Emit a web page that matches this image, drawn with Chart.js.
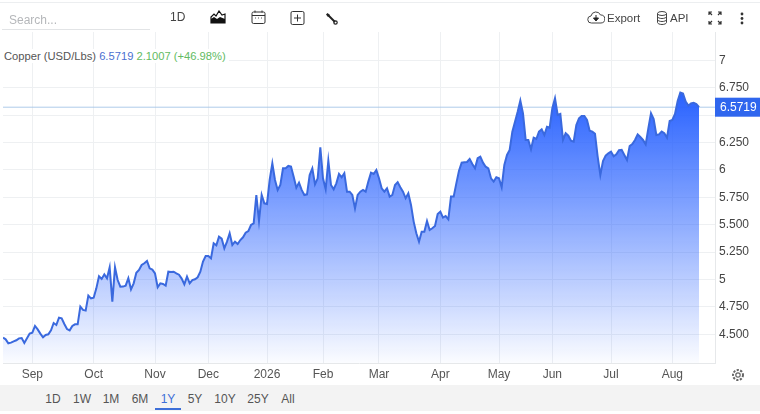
<!DOCTYPE html>
<html>
<head>
<meta charset="utf-8">
<title>Copper</title>
<script src="https://cdn.jsdelivr.net/npm/chart.js@4"></script>
<style>
  body { margin: 0; background: #fff; font-family: "Liberation Sans", Arial, sans-serif; color: #555; }
  #wrap { position: relative; width: 760px; height: 414px; overflow: hidden; }
  #canvas { position: absolute; left: 0; top: 0; }
  .t { position: absolute; white-space: nowrap; font-size: 12px; line-height: 14px; }
  svg { position: absolute; }
  #topline { position: absolute; left: 0; top: 2px; width: 760px; height: 1px; background: #eceef0; }
  #searchline { position: absolute; left: 2px; top: 29px; width: 148px; height: 1px; background: #e2e4e6; }
  #rangebar { position: absolute; left: 0; top: 385px; width: 760px; height: 26px; background: #f3f3f3; }
  #rangeline { position: absolute; left: 155px; top: 408px; width: 26px; height: 2px; background: #3d6fd8; }
  #legend { position: absolute; left: 2px; top: 49px; padding: 0 3px 0 2px; background: #fff; font-size: 11.2px; line-height: 14px; white-space: nowrap; }
</style>
</head>
<body>
<div id="wrap">
  <canvas id="canvas" width="760" height="414"></canvas>
  <div id="topline"></div>
  <div id="searchline"></div>
  <div class="t" style="left:9px;top:13px;color:#b5b7ba">Search...</div>
  <div class="t" style="left:170px;top:10px;color:#444">1D</div>
  <svg style="left:210px;top:10px" width="16" height="14" viewBox="0 0 16 14"><path d="M1 13V7l3-3 2 2 3-5 3 4 3-1v9z" fill="none" stroke="#111" stroke-width="1.2"/><path d="M1 13V9l3-2 3 2 3-2 5 2v4z" fill="#111"/></svg>
  <svg style="left:251px;top:10px" width="15" height="15" viewBox="0 0 15 15"><rect x="1" y="2" width="13" height="11.5" rx="1.5" fill="none" stroke="#333"/><path d="M1 5.5h13" stroke="#333"/><path d="M4 0.5v2M11 0.5v2" stroke="#333"/><path d="M4 8h1M7 8h1M10 8h1" stroke="#555"/></svg>
  <svg style="left:290px;top:11px" width="15" height="14" viewBox="0 0 15 14"><rect x="1" y="0.5" width="13" height="13" rx="1.5" fill="none" stroke="#333"/><path d="M7.500 3.500v7M4 7h7" stroke="#333"/></svg>
  <svg style="left:325px;top:12px" width="13" height="13" viewBox="0 0 13 13"><path d="M3 3l7 7" stroke="#222" stroke-width="2"/><path d="M1 2.500L2.500 1 5 3 3 5z" fill="#222"/><circle cx="10.500" cy="10.500" r="1.700" fill="none" stroke="#222" stroke-width="1.200"/></svg>
  <svg style="left:587px;top:11px" width="18" height="13" viewBox="0 0 18 13"><path d="M4.500 12a3.500 3.500 0 0 1-.5-7 5 5 0 0 1 9.500-1 4 4 0 0 1 .5 8z" fill="none" stroke="#444"/><path d="M9 4v4M6.500 7L9 10l2.500-3z" fill="#222" stroke="#222"/></svg>
  <div class="t" style="left:607px;top:11px;color:#444;font-size:11.5px">Export</div>
  <svg style="left:656px;top:11px" width="12" height="14" viewBox="0 0 12 14"><ellipse cx="6" cy="2.500" rx="4.500" ry="2" fill="none" stroke="#444"/><path d="M1.500 2.500v9c0 1 2 2 4.500 2s4.500-1 4.500-2v-9M1.500 5.500c0 1 2 2 4.500 2s4.500-1 4.500-2M1.500 8.500c0 1 2 2 4.500 2s4.500-1 4.500-2" fill="none" stroke="#444"/></svg>
  <div class="t" style="left:670px;top:11px;color:#444;font-size:11.5px">API</div>
  <svg style="left:708px;top:11px" width="14" height="14" viewBox="0 0 14 14"><path d="M1 4V1h3M10 1h3v3M13 10v3h-3M4 13H1v-3M1 1l3 3M13 1l-3 3M13 13l-3-3M1 13l3-3" fill="none" stroke="#333" stroke-width="1.200"/></svg>
  <svg style="left:740px;top:12px" width="4" height="13" viewBox="0 0 4 13"><circle cx="2" cy="2" r="1.400" fill="#333"/><circle cx="2" cy="6.500" r="1.400" fill="#333"/><circle cx="2" cy="11" r="1.400" fill="#333"/></svg>
  <div id="legend"><span style="color:#555">Copper (USD/Lbs)</span> <span style="color:#4a6fd0" id="lgLast"></span> <span style="color:#62bb62" id="lgChange"></span></div>
  <svg style="left:731px;top:368px" width="14" height="14" viewBox="0 0 14 14"><circle cx="7" cy="7" r="2.200" fill="none" stroke="#666" stroke-width="1.200"/><circle cx="7" cy="7" r="5" fill="none" stroke="#666" stroke-width="2" stroke-dasharray="2.200 1.400"/></svg>
  <div id="rangebar"></div>
  <div id="rangeline"></div>
</div>
<script>
// Copper, one value per trading day
const prices = [
  4.469, 4.454, 4.418, 4.424, 4.436, 4.445, 4.463, 4.466, 4.421, 4.463,
  4.506, 4.515, 4.576, 4.545, 4.506, 4.472, 4.494, 4.500, 4.536, 4.603,
  4.585, 4.652, 4.646, 4.594, 4.548, 4.536, 4.576, 4.591, 4.591, 4.752,
  4.722, 4.716, 4.853, 4.828, 4.834, 4.919, 5.029, 5.005, 5.047, 5.011,
  5.111, 4.798, 5.111, 4.995, 4.934, 4.935, 4.944, 5.011, 4.910, 4.965,
  5.062, 5.087, 5.132, 5.148, 5.169, 5.102, 5.090, 5.056, 4.929, 4.965,
  4.959, 4.944, 5.071, 5.068, 5.071, 5.056, 5.044, 5.008, 4.956, 5.026,
  4.965, 4.995, 5.002, 5.020, 5.071, 5.163, 5.214, 5.214, 5.193, 5.330,
  5.312, 5.391, 5.373, 5.284, 5.345, 5.421, 5.315, 5.345, 5.324, 5.360,
  5.385, 5.427, 5.442, 5.497, 5.512, 5.771, 5.534, 5.771, 5.695, 5.689,
  5.908, 6.060, 5.908, 5.817, 5.862, 6.014, 6.014, 6.036, 6.030, 5.938,
  5.838, 5.884, 5.817, 5.771, 5.777, 5.953, 6.014, 5.868, 5.923, 6.206,
  5.923, 5.823, 6.084, 5.862, 5.823, 5.877, 5.963, 5.932, 5.969, 5.801,
  5.801, 5.771, 5.649, 5.771, 5.801, 5.817, 5.801, 5.893, 5.975, 5.963,
  5.999, 5.923, 5.832, 5.801, 5.832, 5.756, 5.771, 5.862, 5.887, 5.841,
  5.801, 5.741, 5.786, 5.680, 5.528, 5.421, 5.345, 5.436, 5.436, 5.534,
  5.452, 5.467, 5.488, 5.598, 5.619, 5.564, 5.579, 5.549, 5.756, 5.756,
  5.877, 5.993, 6.066, 6.069, 6.072, 6.099, 6.054, 6.014, 6.106, 6.121,
  6.066, 6.029, 6.014, 5.923, 5.893, 5.932, 5.923, 5.841, 6.045, 6.136,
  6.182, 6.349, 6.440, 6.531, 6.632, 6.516, 6.273, 6.273, 6.188, 6.294,
  6.282, 6.349, 6.370, 6.318, 6.394, 6.385, 6.562, 6.653, 6.501, 6.510,
  6.273, 6.334, 6.312, 6.267, 6.258, 6.410, 6.470, 6.492, 6.492, 6.455,
  6.358, 6.349, 6.330, 6.120, 5.953, 6.081, 6.130, 6.151, 6.166, 6.124,
  6.142, 6.179, 6.182, 6.136, 6.090, 6.218, 6.236, 6.273, 6.324, 6.300,
  6.273, 6.233, 6.379, 6.516, 6.464, 6.318, 6.324, 6.349, 6.334, 6.294,
  6.446, 6.455, 6.510, 6.629, 6.705, 6.696, 6.623, 6.586, 6.607, 6.613,
  6.601, 6.5719,
];

const monthLabels = ["Sep", "Oct", "Nov", "Dec", "2026", "Feb", "Mar", "Apr", "May", "Jun", "Jul", "Aug"];
const monthIdx = [11, 34, 57, 77, 99, 120, 141, 164, 186, 206, 228, 251];
const yTicks = [4.5, 4.75, 5, 5.25, 5.5, 5.75, 6, 6.25, 6.5, 6.75, 7];
const yLabels = ["4.500", "4.750", "5", "5.250", "5.500", "5.750", "6", "6.250", "", "6.750", "7"];
const rangeLabels = ["1D", "1W", "1M", "6M", "1Y", "5Y", "10Y", "25Y", "All"];
const rangeCenters = [53, 82, 111, 140, 168, 195, 225, 258, 288];
const lastPrice = "6.5719";
const changeText = "2.1007 (+46.98%)";

document.getElementById("lgLast").textContent = lastPrice;
document.getElementById("lgChange").textContent = changeText;

const wrap = document.getElementById("wrap");
rangeLabels.forEach((label, i) => {
  const el = document.createElement("div");
  el.className = "t";
  el.textContent = label;
  el.style.left = rangeCenters[i] - 20 + "px";
  el.style.width = "40px";
  el.style.textAlign = "center";
  el.style.top = "392px";
  el.style.color = label === "1Y" ? "#3d6fd8" : "#555";
  wrap.appendChild(el);
});

const gridColor = "#eef0f2";

const priceTag = {
  id: "priceTag",
  afterDraw(chart) {
    const { ctx, scales } = chart;
    const y = scales.y.getPixelForValue(prices[prices.length - 1]);
    ctx.save();
    ctx.fillStyle = "#2f66ee";
    ctx.fillRect(715, y - 9.5, 45, 19);
    ctx.fillStyle = "#fff";
    ctx.font = '12px "Liberation Sans", Arial, sans-serif';
    ctx.textAlign = "left";
    ctx.textBaseline = "middle";
    ctx.fillText(lastPrice, 720, y + 0.5);
    ctx.restore();
  },
};

new Chart(document.getElementById("canvas"), {
  type: "line",
  data: {
    datasets: [
      {
        data: prices.map((p, i) => ({ x: i, y: p })),
        borderColor: "#3a69de",
        borderWidth: 2,
        pointRadius: 0,
        tension: 0,
        fill: "start",
        backgroundColor(context) {
          const { ctx, chartArea } = context.chart;
          if (!chartArea) return "rgba(41,98,255,0.5)";
          const g = ctx.createLinearGradient(0, 93, 0, chartArea.bottom);
          g.addColorStop(0, "rgba(41,98,255,1)");
          g.addColorStop(1, "rgba(41,98,255,0.02)");
          return g;
        },
      },
      {
        data: [
          { x: 0, y: prices[prices.length - 1] },
          { x: 267, y: prices[prices.length - 1] },
        ],
        borderColor: "rgba(165,198,232,0.9)",
        borderWidth: 1,
        pointRadius: 0,
        fill: false,
      },
    ],
  },
  plugins: [priceTag],
  options: {
    responsive: false,
    animation: false,
    events: [],
    layout: { padding: { left: 3, top: 32, right: 0, bottom: 0 } },
    plugins: { legend: { display: false }, tooltip: { enabled: false } },
    scales: {
      x: {
        type: "linear",
        min: 0,
        max: 267,
        afterBuildTicks(scale) {
          scale.ticks = monthIdx.map((v) => ({ value: v }));
        },
        afterFit(scale) {
          scale.height = 51;
        },
        grid: { color: gridColor, drawTicks: false },
        border: { color: "#e6e8ea" },
        ticks: {
          maxRotation: 0,
          autoSkip: false,
          padding: 4,
          color: "#555",
          font: { family: '"Liberation Sans", Arial, sans-serif', size: 12 },
          callback(value) {
            return monthLabels[monthIdx.indexOf(value)];
          },
        },
      },
      y: {
        position: "right",
        min: 4.238,
        max: 7.258,
        afterBuildTicks(scale) {
          scale.ticks = yTicks.map((v) => ({ value: v }));
        },
        afterFit(scale) {
          scale.width = 45;
        },
        grid: { color: gridColor, drawTicks: false },
        border: { color: "#e6e8ea" },
        ticks: {
          padding: 4,
          color: "#444",
          font: { family: '"Liberation Sans", Arial, sans-serif', size: 12 },
          callback(value) {
            return yLabels[yTicks.indexOf(value)];
          },
        },
      },
    },
  },
});
</script>
</body>
</html>
